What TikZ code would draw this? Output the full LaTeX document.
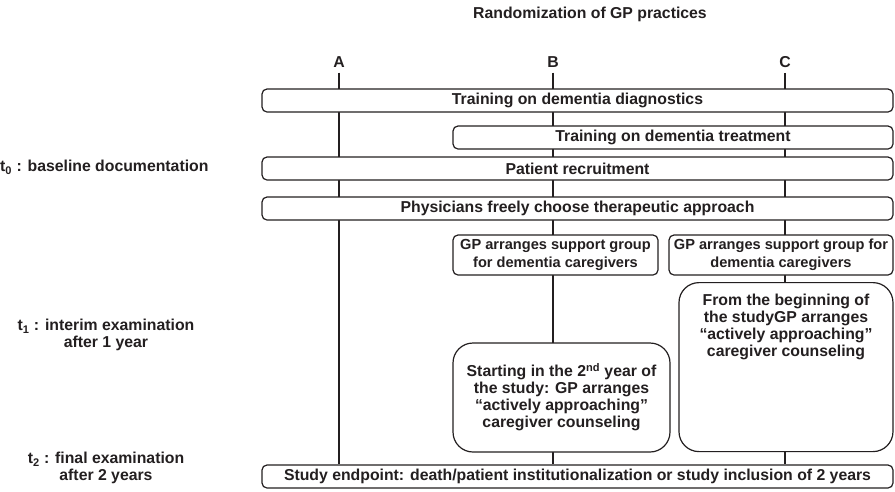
\documentclass[tikz,border=0pt]{standalone}
\usepackage{fontspec}
\setmainfont{Liberation Sans}
\usetikzlibrary{backgrounds}
\definecolor{ink}{HTML}{231F20}

\tikzset{
  bar/.style={draw=ink, line width=1.2pt, rounded corners=5pt, fill=white, inner sep=0pt},
  groupbox/.style={bar, align=center, font=\bfseries\fontsize{14.6}{17.5}\selectfont},
  note/.style={bar, rounded corners=20pt, align=center},
  track/.style={draw=ink, line width=2.4pt}
}

\begin{document}
\begin{tikzpicture}[x=1pt, y=-1pt,
    every node/.style={text=ink, font=\bfseries\fontsize{15.8}{17}\selectfont}]
  \useasboundingbox (0,0) rectangle (895,491);

  % heading and arms
  \node (title) at (590,14) {Randomization of GP practices};
  \node[inner sep=5pt] (colA) at (339,62) {A};
  \node[inner sep=5pt] (colB) at (553,62) {B};
  \node[inner sep=5pt] (colC) at (785,62) {C};

  % time points
  \node[anchor=east] (tnull) at (212,167) {t\textsubscript{0} : baseline documentation};
  \node[align=center] (tone) at (106,335) {t\textsubscript{1} : interim examination\\after 1 year};
  \node[align=center] (ttwo) at (106,468) {t\textsubscript{2} : final examination\\after 2 years};

  % boxes
  \node[bar, minimum width=631pt, minimum height=23pt] (diag) at (577.5,100.5) {Training on dementia diagnostics};
  \node[bar, minimum width=440pt, minimum height=23pt] (treat) at (673,137.5) {Training on dementia treatment};
  \node[bar, minimum width=631pt, minimum height=23pt] (recruit) at (577.5,168.5) {Patient recruitment};
  \node[bar, minimum width=631pt, minimum height=23pt] (choose) at (577.5,208.5) {Physicians freely choose therapeutic approach};
  \node[groupbox, minimum width=205pt, minimum height=40pt] (groupB) at (555.5,255) {GP arranges support group\\for dementia caregivers};
  \node[groupbox, minimum width=224pt, minimum height=40pt] (groupC) at (781,255) {GP arranges support group for\\dementia caregivers};
  \node[note, minimum width=217pt, minimum height=109pt] (counselB) at (561.5,397.5) {Starting in the 2\textsuperscript{nd} year of\\the study: GP arranges\\“actively approaching”\\caregiver counseling};
  \node[note, minimum width=214pt, text height=74pt, text depth=95pt, anchor=north] (counselC) at (786,282) {From the beginning of\\the studyGP arranges\\“actively approaching”\\caregiver counseling};
  \node[bar, minimum width=631pt, minimum height=23pt] (endpoint) at (577.5,476.5) {Study endpoint: death/patient institutionalization or study inclusion of 2 years};

  % lines
  \begin{scope}[on background layer]
    \foreach \col in {colA,colB,colC}
      \draw[track] (\col.south) -- (\col |- endpoint.north);
  \end{scope}
\end{tikzpicture}
\end{document}
